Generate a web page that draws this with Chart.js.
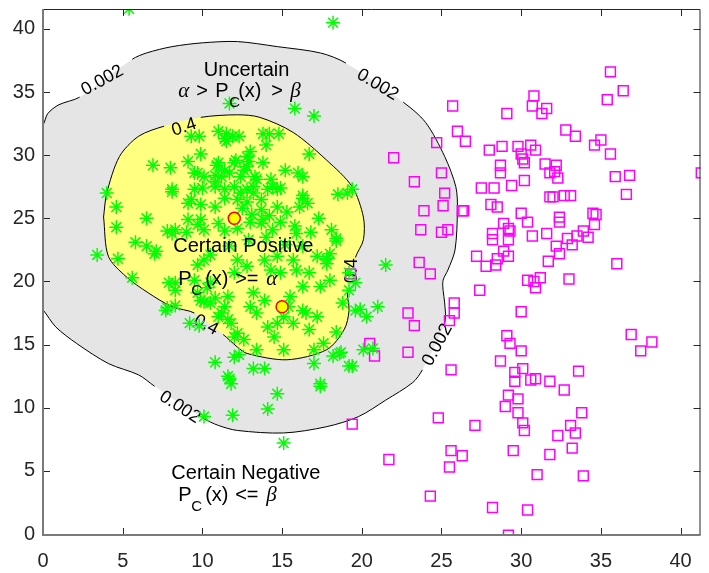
<!DOCTYPE html>
<html>
<head>
<meta charset="utf-8">
<script src="https://cdn.jsdelivr.net/npm/chart.js@4.4.0/dist/chart.umd.min.js"></script>
<style>
	body { margin: 0; background: #fff; }
</style>
</head>
<body>
<canvas id="regionChart" width="709" height="573"></canvas>
<script>
// axis ticks
var xTicks = [0, 5, 10, 15, 20, 25, 30, 35, 40];
var yTicks = [0, 5, 10, 15, 20, 25, 30, 35, 40];

// class centres
var centres = [[12, 25], [15, 18]];

// positive samples (green asterisks)
var positives = [
	[5.4, 41.6], [18.2, 40.5], [11.7, 34.1], [15.8, 33.7], [17.0, 33.1],
	[9.3, 31.5], [9.8, 31.5], [9.9, 30.1], [11.0, 31.9], [11.5, 31.7], [11.4, 31.3], [11.9, 31.5], [12.3, 31.5],
	[11.5, 31.1], [13.8, 31.7], [14.2, 31.7], [14.8, 31.7], [14.0, 30.8], [13.0, 30.3], [16.7, 30.1],
	[6.9, 29.2], [8.0, 29.0], [9.1, 29.5], [9.5, 28.6], [10.1, 28.3], [10.9, 29.2], [10.8, 28.4], [10.8, 27.9],
	[11.4, 28.8], [12.0, 29.4], [11.0, 29.4], [12.1, 29.6], [12.9, 29.5], [13.8, 29.4], [12.8, 29.9], [12.8, 29.1],
	[15.2, 28.8], [16.0, 28.6], [16.3, 28.3], [13.3, 28.3], [12.4, 28.3], [12.6, 28.8], [13.4, 28.1], [14.3, 28.1],
	[9.7, 28.6], [11.2, 28.3], [11.7, 28.6],
	[8.1, 27.3], [9.5, 27.3], [10.0, 27.4], [4.0, 27.0], [12.0, 27.5], [13.2, 27.5], [14.4, 27.5], [14.9, 27.4],
	[16.3, 26.8], [18.5, 26.9], [19.4, 27.3], [19.1, 27.0], [14.7, 27.3], [14.1, 27.3], [10.8, 27.5], [11.4, 27.3],
	[12.4, 27.0], [12.8, 27.3], [13.2, 27.0],
	[11.4, 26.6], [12.2, 26.5], [12.8, 26.3], [13.7, 26.5], [9.3, 26.5], [9.9, 26.1], [10.8, 25.9], [16.3, 26.6],
	[16.1, 25.9], [16.6, 26.2], [14.7, 25.9], [13.7, 25.7], [12.5, 25.8], [13.1, 25.3], [14.2, 25.2], [15.3, 25.5],
	[6.5, 25.0], [9.1, 24.9], [9.7, 24.5], [11.0, 24.6], [13.0, 24.7], [13.8, 24.9], [14.9, 24.7], [15.8, 24.4],
	[8.3, 24.1], [10.1, 24.1], [11.4, 24.0], [12.2, 24.2], [14.4, 24.1], [17.3, 25.0], [18.1, 24.1], [18.4, 23.4],
	[17.8, 21.8], [13.7, 24.6], [15.9, 23.8], [12.9, 23.3], [14.0, 23.5], [15.2, 22.9], [11.7, 22.8], [16.8, 23.9],
	[3.4, 22.1], [4.6, 25.9], [4.6, 24.3], [4.7, 21.8], [5.8, 23.1], [6.5, 22.8], [7.1, 22.4], [5.6, 20.3],
	[7.8, 24.0], [8.1, 23.8], [9.0, 23.9], [9.1, 26.2], [8.1, 27.1],
	[7.9, 19.9], [8.3, 19.3], [7.8, 17.9], [8.3, 18.1], [9.2, 16.7], [9.8, 16.5], [10.8, 13.6], [11.7, 12.3],
	[9.7, 21.3], [10.1, 21.7], [10.5, 22.1], [9.9, 24.9],
	[9.5, 20.1], [10.3, 19.5], [9.9, 18.5], [10.5, 18.3], [11.6, 18.8], [11.2, 17.5], [11.8, 16.7], [12.0, 15.6],
	[12.0, 14.0], [7.0, 22.2], [8.3, 19.9], [7.7, 17.7], [10.1, 18.4], [10.8, 18.7], [9.7, 19.1], [10.5, 19.9],
	[11.4, 18.0], [11.0, 17.2], [11.6, 17.0], [12.2, 15.9], [12.6, 15.4], [12.3, 14.2], [11.6, 12.5],
	[12.2, 21.7], [12.8, 21.2], [12.0, 20.7], [13.2, 19.1], [13.9, 18.5], [13.0, 18.0], [13.4, 17.5], [14.1, 16.4],
	[13.4, 14.6], [13.2, 13.1], [13.9, 13.1], [14.7, 16.7], [14.5, 15.6], [15.1, 14.6], [15.5, 18.8], [15.7, 16.7],
	[16.3, 17.7], [16.7, 16.2], [17.2, 17.2], [17.6, 15.1], [17.0, 14.6], [18.2, 14.1], [18.6, 14.3], [19.2, 13.3],
	[18.8, 18.3], [19.2, 19.3], [19.6, 17.7], [20.3, 17.2], [19.2, 20.7], [19.6, 19.9], [16.3, 19.6], [17.4, 19.6],
	[16.7, 20.7], [15.9, 20.9], [14.9, 20.7], [14.3, 20.9], [13.9, 21.7], [14.7, 22.0], [15.7, 21.7], [17.2, 22.0],
	[17.8, 21.4], [18.0, 22.2], [16.3, 22.8], [18.4, 23.2], [18.0, 20.1], [15.4, 18.0], [15.1, 17.2],
	[21.5, 21.3], [21.0, 18.0], [19.9, 17.8], [18.4, 16.0], [20.1, 14.6], [20.7, 14.7], [18.7, 14.4], [19.4, 13.3],
	[17.0, 13.5], [17.4, 11.9], [16.5, 17.5],
	[10.1, 9.3], [11.9, 9.4], [11.8, 11.9], [14.7, 11.1], [14.1, 9.9], [17.4, 11.7], [15.1, 7.2]
];

// negative samples (magenta squares)
var negatives = [
	[35.6, 36.6], [36.4, 35.1], [35.4, 34.4], [30.8, 34.7], [30.7, 33.9], [31.3, 33.3], [31.6, 33.7], [29.1, 33.3],
	[25.7, 33.9], [26.0, 31.9], [26.5, 31.1], [28.0, 30.4], [28.8, 30.7], [29.8, 30.7], [30.6, 30.8], [30.9, 30.4],
	[30.0, 30.1], [30.1, 29.7], [30.2, 29.4], [28.7, 29.2], [28.7, 28.6], [31.5, 29.3], [32.2, 29.2], [31.8, 28.6],
	[32.1, 28.7], [32.3, 28.2], [32.8, 32.0], [33.4, 31.5], [34.6, 30.8], [35.0, 31.2], [35.6, 30.1], [35.9, 28.3],
	[36.8, 28.4], [36.6, 26.9], [41.3, 28.6], [27.5, 27.4], [28.3, 27.4], [29.4, 27.6], [30.2, 28.0], [31.8, 26.7],
	[32.0, 26.7], [32.7, 26.8], [33.1, 26.8],
	[26.4, 25.6], [28.1, 26.1], [28.5, 25.9], [30.0, 25.4], [30.4, 24.7], [32.4, 25.1], [32.4, 24.7], [34.5, 25.4],
	[34.7, 25.3], [34.6, 24.5], [28.9, 24.6], [29.2, 24.2], [29.3, 24.0], [28.2, 23.8], [28.2, 23.3], [29.2, 23.3],
	[30.7, 23.6], [31.6, 23.8], [32.9, 23.4], [33.5, 23.6], [33.9, 24.0], [34.2, 23.5], [33.2, 22.9], [32.2, 22.8],
	[32.4, 22.2], [28.9, 22.4], [27.2, 22.0], [28.5, 21.8], [29.2, 22.0], [27.8, 21.2], [28.4, 21.3], [31.7, 21.6],
	[36.0, 21.4], [30.4, 20.1], [30.8, 20.0], [31.2, 20.3], [30.9, 19.5], [33.0, 20.2], [27.4, 19.3], [25.8, 18.3],
	[25.8, 17.5], [30.0, 17.6], [29.1, 15.7], [29.3, 15.1], [30.0, 14.5], [36.9, 15.8], [38.2, 15.2], [37.5, 14.5],
	[28.7, 13.7], [30.1, 13.1], [29.6, 12.8], [29.6, 12.1], [30.6, 12.2], [30.9, 12.3], [31.8, 12.1], [33.6, 12.9],
	[25.6, 13.0], [32.7, 11.4], [29.2, 11.0], [29.8, 10.7], [29.0, 10.1], [29.8, 9.6], [30.1, 8.8], [30.2, 8.2],
	[27.1, 8.6], [33.8, 9.6], [33.1, 8.6], [33.4, 8.0], [32.3, 7.8], [33.2, 6.8], [31.8, 6.3], [29.5, 6.6],
	[26.3, 6.2], [25.6, 6.6], [31.0, 4.7], [33.9, 4.6], [28.2, 2.1], [30.4, 1.9], [29.2, -0.1],
	[19.4, 8.7], [21.7, 5.9], [24.8, 9.2], [25.5, 5.3], [24.3, 3.0],
	[25.2, 27.0], [23.9, 25.6], [25.1, 26.0], [26.3, 25.6], [23.7, 24.1], [25.0, 23.9], [25.4, 24.1], [23.6, 21.5],
	[24.3, 20.6], [19.3, 20.6], [25.5, 16.9], [22.9, 17.5], [23.3, 16.5], [20.5, 15.1], [20.8, 14.1], [22.9, 14.4],
	[24.7, 31.0], [22.0, 29.8], [25.0, 28.6], [23.3, 27.9]
];

// P = 0.002 contour (uncertain region boundary)
var contourLow = [
	[-1, 31.0], [0, 32.4], [0.3, 33.3], [1.0, 34.0], [2.3, 34.6], [5.6, 37.6], [6.5, 38.1], [8.1, 38.6],
	[10.0, 38.9], [12.2, 39.0], [14.7, 38.6], [17.4, 38.1], [19.0, 37.3], [22.6, 34.2], [24.0, 32.6], [25.2, 29.9],
	[25.9, 27.5], [26.0, 25.7], [25.85, 22.5], [25.4, 20.9], [25.1, 20.1], [25.1, 19.3], [25.2, 18.3], [25.2, 16.7],
	[23.8, 13.0], [23.2, 12.0], [21.5, 10.6], [19.8, 9.3], [17.8, 8.5], [15.1, 8.0], [12.2, 8.2], [11.0, 8.6],
	[10.0, 9.2], [7.0, 11.7], [6.0, 12.6], [4.1, 13.5], [2.1, 15.1], [0.8, 16.4], [0, 17.75], [-1, 19.0]
];
var contourLowGaps = [4, 12, 23, 32];

// P = 0.4 contour (certain positive region boundary)
var contourHigh = [
	[3.8, 25.1], [4.0, 27.0], [4.8, 29.9], [6.0, 31.5], [7.6, 32.3], [9.9, 33.0], [12.2, 33.2], [13.6, 33.0],
	[15.7, 31.8], [17.8, 29.6], [19.4, 27.5], [20.1, 25.1], [20.1, 23.3], [19.6, 21.9], [19.1, 19.2], [19.2, 17.7],
	[18.9, 16.2], [17.8, 14.6], [15.3, 13.8], [12.8, 14.3], [12.2, 14.8], [11.3, 15.8], [9.5, 17.5], [8.1, 18.0],
	[6.6, 19.1], [5.2, 20.4], [4.1, 22.0], [3.8, 25.1]
];
var contourHighGaps = [4, 13, 21];

var sans = '"Liberation Sans", Arial, sans-serif';

// contour labels: text, x, y, angle (deg)
var contourLabels = [
	['0.002', 3.72, 35.92, -29],
	['0.002', 20.99, 35.58, 31],
	['0.002', 24.75, 14.98, -62],
	['0.002', 8.59, 10.04, 33],
	['0.4', 8.85, 32.21, -18],
	['0.4', 10.24, 16.56, 28],
	['0.4', 19.37, 20.84, -90]
];

// region captions: x, y (baseline), pieces [text, font, offset px]
var captions = [
	[10.09, 36.29, [['Uncertain', 'n', 0]]],
	[8.48, 34.63, [['\u03b1', 'g', 0], ['>', 'n', 18], ['P', 'n', 37], ['C', 's', 51], ['(x)', 'n', 60], ['>', 'n', 93], ['\u03b2', 'g', 112]]],
	[8.17, 22.35, [['Certain Positive', 'n', 0]]],
	[8.48, 19.73, [['P', 'n', 0], ['C', 's', 13], ['(x)', 'n', 27], ['>=', 'n', 57], ['\u03b1', 'g', 88]]],
	[8.05, 4.36, [['Certain Negative', 'n', 0]]],
	[8.48, 2.61, [['P', 'n', 0], ['C', 's', 13], ['(x)', 'n', 27], ['<=', 'n', 57], ['\u03b2', 'g', 88]]]
];

function gapColor(gaps) {
	return function (ctx) {
		return gaps.indexOf(ctx.p0DataIndex) >= 0 ? 'rgba(0,0,0,0)' : '#000';
	};
}

function noPadding(scale) {
	scale.paddingTop = 0;
	scale.paddingBottom = 0;
	scale.paddingLeft = 0;
	scale.paddingRight = 0;
}

var decorPlugin = {
	id: 'decor',
	afterDatasetDraw: function (chart, args) {
		if (args.index !== 3) {
			return;
		}
		var c = chart.ctx;
		var xs = chart.scales.x;
		var ys = chart.scales.y;
		c.save();
		c.font = '18px ' + sans;
		c.fillStyle = '#000';
		c.textAlign = 'center';
		c.textBaseline = 'middle';
		contourLabels.forEach(function (l) {
			c.save();
			c.translate(xs.getPixelForValue(l[1]), ys.getPixelForValue(l[2]));
			c.rotate(l[3] * Math.PI / 180);
			c.fillText(l[0], 0, 0);
			c.restore();
		});
		c.restore();
	},
	afterDatasetsDraw: function (chart) {
		var c = chart.ctx;
		var xs = chart.scales.x;
		var ys = chart.scales.y;
		var fonts = {
			n: '20px ' + sans,
			s: '15px ' + sans,
			g: 'italic 21px "Liberation Serif", "Times New Roman", serif'
		};
		c.save();
		c.textAlign = 'left';
		c.textBaseline = 'alphabetic';
		c.fillStyle = '#000';
		captions.forEach(function (cap) {
			var x = xs.getPixelForValue(cap[0]);
			var y = ys.getPixelForValue(cap[1]);
			cap[2].forEach(function (p) {
				c.font = fonts[p[1]];
				c.fillText(p[0], x + p[2], p[1] === 's' ? y + 10 : y);
			});
		});
		c.restore();
	},
	afterDraw: function (chart) {
		var c = chart.ctx;
		var a = chart.chartArea;
		var xs = chart.scales.x;
		var ys = chart.scales.y;
		c.save();
		c.lineWidth = 1;
		c.strokeStyle = '#262626';
		c.beginPath();
		c.moveTo(a.left, a.top + 0.5);
		c.lineTo(a.right - 0.5, a.top + 0.5);
		c.lineTo(a.right - 0.5, a.bottom);
		c.stroke();
		xTicks.forEach(function (v) {
			var p = Math.round(xs.getPixelForValue(v)) + 0.5;
			c.beginPath();
			c.moveTo(p, a.bottom);
			c.lineTo(p, a.bottom - 7);
			c.moveTo(p, a.top);
			c.lineTo(p, a.top + 7);
			c.stroke();
		});
		yTicks.forEach(function (v) {
			var p = Math.round(ys.getPixelForValue(v)) + 0.5;
			c.beginPath();
			c.moveTo(a.left, p);
			c.lineTo(a.left + 7, p);
			c.moveTo(a.right, p);
			c.lineTo(a.right - 7, p);
			c.stroke();
		});
		c.lineWidth = 2;
		c.strokeStyle = '#7a7a7a';
		c.beginPath();
		c.moveTo(a.left, a.top);
		c.lineTo(a.left, a.bottom);
		c.lineTo(a.right, a.bottom);
		c.stroke();
		c.restore();
	}
};

var ctx = document.getElementById("regionChart").getContext('2d');
var myChart = new Chart(ctx, {
	type: 'scatter',
	data: {
		datasets: [{
			label: 'Centres',
			data: centres,
			pointStyle: 'circle',
			pointRadius: 6,
			backgroundColor: '#ffff00',
			borderColor: '#ff0000',
			borderWidth: 1.5
		}, {
			label: 'Positive',
			data: positives,
			pointStyle: 'star',
			pointRadius: 7,
			borderColor: '#00ff00',
			borderWidth: 1.5
		}, {
			label: 'Negative',
			data: negatives,
			pointStyle: 'rect',
			pointRadius: 7,
			backgroundColor: 'rgba(0,0,0,0)',
			borderColor: '#ff00ff',
			borderWidth: 1.5
		}, {
			label: '0.4 line',
			data: contourHigh,
			showLine: true,
			fill: false,
			borderColor: '#000',
			borderWidth: 1,
			pointRadius: 0,
			tension: 0.3,
			segment: { borderColor: gapColor(contourHighGaps) }
		}, {
			label: '0.4',
			data: contourHigh,
			showLine: true,
			fill: 'shape',
			backgroundColor: '#ffff80',
			borderWidth: 0,
			pointRadius: 0,
			tension: 0.3
		}, {
			label: '0.002 line',
			data: contourLow,
			showLine: true,
			fill: false,
			borderColor: '#000',
			borderWidth: 1,
			pointRadius: 0,
			tension: 0.3,
			segment: { borderColor: gapColor(contourLowGaps) }
		}, {
			label: '0.002',
			data: contourLow,
			showLine: true,
			fill: 'shape',
			backgroundColor: '#e5e5e5',
			borderWidth: 0,
			pointRadius: 0,
			tension: 0.3
		}]
	},
	options: {
		responsive: false,
		animation: false,
		events: [],
		layout: { padding: { top: 9, right: 1, left: 0, bottom: 0 } },
		scales: {
			x: {
				type: 'linear',
				min: 0,
				max: 41.25,
				border: { display: false },
				grid: { display: false, drawTicks: false },
				ticks: {
					stepSize: 5,
					autoSkip: false,
					maxRotation: 0,
					padding: 14,
					color: '#262626',
					font: { size: 20, family: sans }
				},
				afterBuildTicks: function (scale) {
					scale.ticks = xTicks.map(function (v) { return { value: v }; });
				},
				afterFit: function (scale) {
					scale.height = 38;
					noPadding(scale);
				}
			},
			y: {
				type: 'linear',
				min: -0.08,
				max: 41.58,
				border: { display: false },
				grid: { display: false, drawTicks: false },
				ticks: {
					stepSize: 5,
					autoSkip: false,
					padding: 8,
					color: '#262626',
					font: { size: 20, family: sans }
				},
				afterBuildTicks: function (scale) {
					scale.ticks = yTicks.map(function (v) { return { value: v }; });
				},
				afterFit: function (scale) {
					scale.width = 43;
					noPadding(scale);
				}
			}
		},
		plugins: {
			legend: { display: false },
			tooltip: { enabled: false }
		}
	},
	plugins: [decorPlugin]
});
</script>
</body>
</html>
